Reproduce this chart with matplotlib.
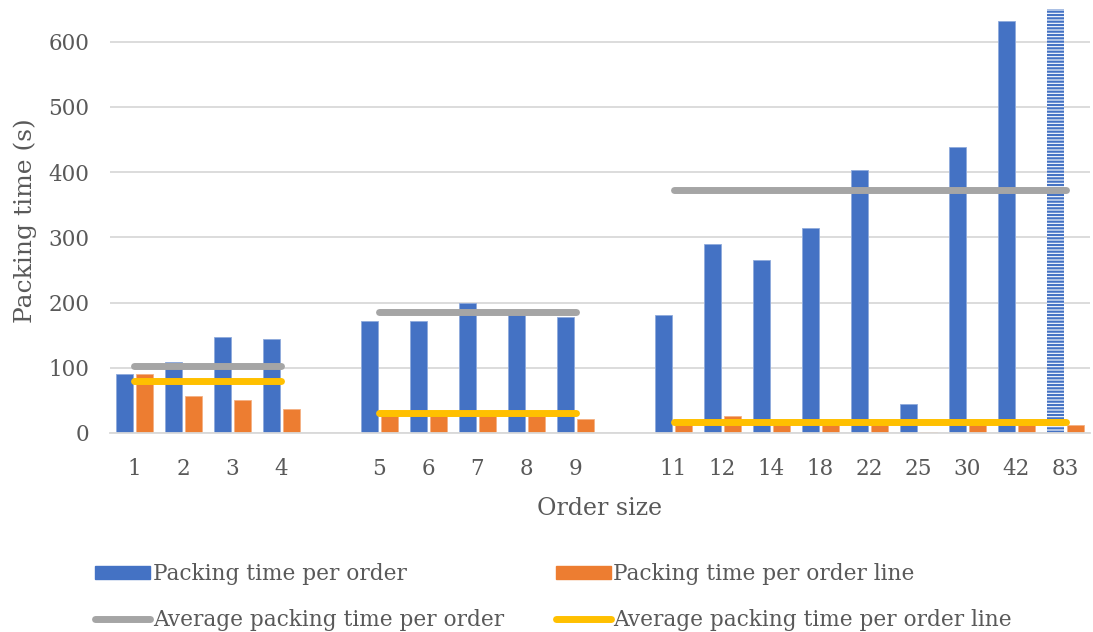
import matplotlib
matplotlib.use("Agg")
import matplotlib.pyplot as plt
import numpy as np
from matplotlib.lines import Line2D
from matplotlib.patches import Patch

# Order sizes, with blank slots separating the three size groups
order_sizes = ["1", "2", "3", "4", "", "5", "6", "7", "8", "9", "",
               "11", "12", "14", "18", "22", "25", "30", "42", "83"]

# Packing time per order (s); NaN in the blank slots
per_order = [90, 109, 147, 144, np.nan, 172, 171, 199, 185, 178, np.nan,
             181, 289, 265, 314, 403, 44, 439, 631, 650]

# Packing time per order line (s)
per_line = [90, 56, 50, 37, np.nan, 35, 27, 28, 26, 21, np.nan,
            17, 26, 16, 16, 16, 2, 16, 16, 13]

# Group averages: (first slot, last slot, per order, per order line)
group_avgs = [(0, 3, 103, 80),
              (5, 9, 186, 30),
              (11, 19, 373, 17)]

# The largest order is beyond the axis range and is drawn hatched
truncated = ["83"]

BLUE = "#4472C4"
ORANGE = "#ED7D31"
GREY = "#A5A5A5"
GOLD = "#FFC000"
TEXT = "#595959"

plt.rcParams["font.family"] = ["DejaVu Serif"]
plt.rcParams["hatch.linewidth"] = 1.6

fig = plt.figure(figsize=(10.93, 6.32), dpi=100)
ax = fig.add_axes([0.1006, 0.3149, 0.8967, 0.6709])

x = np.arange(len(order_sizes))
w = 0.34
off = 0.205

for i, (lab, v) in enumerate(zip(order_sizes, per_order)):
    if np.isnan(v):
        continue
    if lab in truncated:
        ax.bar(x[i] - off, v, w, facecolor="white", edgecolor=BLUE,
               linewidth=0, hatch="-----", zorder=2)
    else:
        ax.bar(x[i] - off, v, w, color=BLUE, edgecolor="#8FAADC",
               linewidth=0.6, zorder=2)

vals = np.array(per_line, dtype=float)
mask = ~np.isnan(vals)
ax.bar(x[mask] + off, vals[mask], w, color=ORANGE, edgecolor="#F4B183",
       linewidth=0.6, zorder=2)

for a, b, avg_o, avg_l in group_avgs:
    ax.plot([x[a], x[b]], [avg_o, avg_o], color=GREY, lw=5,
            solid_capstyle="round", zorder=3)
    ax.plot([x[a], x[b]], [avg_l, avg_l], color=GOLD, lw=5,
            solid_capstyle="round", zorder=3)

ax.set_xlim(-0.5, len(order_sizes) - 0.5)
ax.set_ylim(0, 650)
ax.set_yticks(range(0, 700, 100))
ax.set_xticks(x)
ax.set_xticklabels(order_sizes)
ax.tick_params(axis="both", length=0, labelsize=15.5, colors=TEXT)
ax.tick_params(axis="x", pad=18)
ax.tick_params(axis="y", pad=15)
ax.grid(axis="y", color="#D9D9D9", lw=1.3, zorder=0)
ax.set_axisbelow(True)
for s in ["top", "right", "left"]:
    ax.spines[s].set_visible(False)
ax.spines["bottom"].set_color("#D9D9D9")
ax.spines["bottom"].set_linewidth(1.3)

ax.set_xlabel("Order size", fontsize=17, color=TEXT, labelpad=12)
ax.set_ylabel("Packing time (s)", fontsize=18, color=TEXT)
ax.yaxis.set_label_coords(-0.0745, 0.5)

handles = [Patch(color=BLUE), Patch(color=ORANGE),
           Line2D([], [], color=GREY, lw=5, solid_capstyle="round"),
           Line2D([], [], color=GOLD, lw=5, solid_capstyle="round")]
labels = ["Packing time per order", "Packing time per order line",
          "Average packing time per order", "Average packing time per order line"]
order = [0, 2, 1, 3]
fig.legend([handles[i] for i in order], [labels[i] for i in order],
           ncol=2, loc="lower left", bbox_to_anchor=(0.0695, -0.030),
           frameon=False, fontsize=15.6, handlelength=2.53, handleheight=0.55,
           handletextpad=0.12, columnspacing=2.4, labelspacing=1.12,
           labelcolor=TEXT)

fig.savefig("out.png", dpi=100)
